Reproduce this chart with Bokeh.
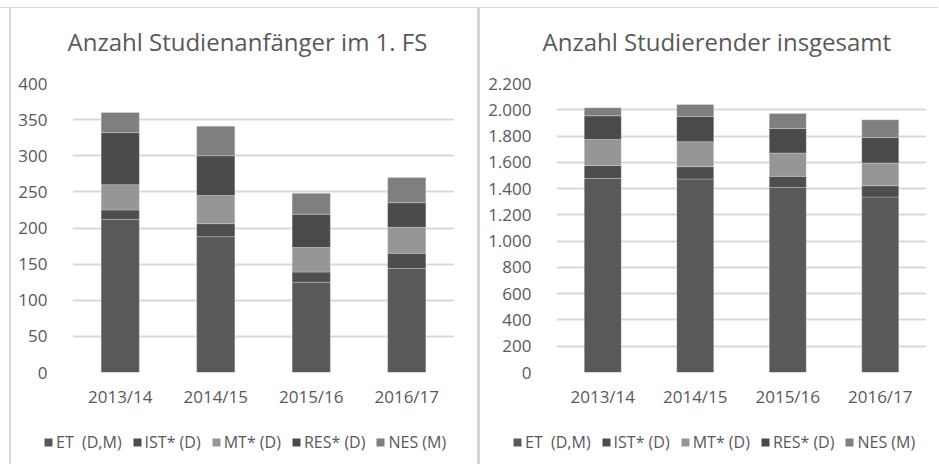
from bokeh.plotting import figure
from bokeh.models import (FactorRange, Range1d, FixedTicker, Legend, LegendItem, Div, Title)
from bokeh.layouts import row, column
from bokeh.embed import file_html
from bokeh.resources import INLINE

# ---------------- data ----------------
categories = ["2013/14", "2014/15", "2015/16", "2016/17"]
series_names = ["ET  (D,M)", "IST* (D)", "MT* (D)", "RES* (D)", "NES (M)"]
series_keys = ["et", "ist", "mt", "res", "nes"]
series_colors = ["#595959", "#4d4d4d", "#969696", "#4a4a4a", "#7f7f7f"]

# Anzahl Studienanfänger im 1. FS
anf_et = [212, 188, 125, 144]
anf_ist = [13, 18, 14, 21]
anf_mt = [35, 39, 34, 36]
anf_res = [72, 55, 46, 34]
anf_nes = [28, 41, 29, 35]
anf_ticks = [0, 50, 100, 150, 200, 250, 300, 350, 400]
anf_labels = ["0", "50", "100", "150", "200", "250", "300", "350", "400"]

# Anzahl Studierender insgesamt
ges_et = [1478, 1473, 1409, 1336]
ges_ist = [98, 94, 84, 86]
ges_mt = [198, 190, 178, 173]
ges_res = [180, 192, 187, 194]
ges_nes = [61, 91, 114, 135]
ges_ticks = [0, 200, 400, 600, 800, 1000, 1200, 1400, 1600, 1800, 2000, 2200]
ges_labels = ["0", "200", "400", "600", "800", "1.000", "1.200", "1.400",
              "1.600", "1.800", "2.000", "2.200"]

FONT = "Open Sans"
TXT = "#595959"
CHART_H = 417
LEG_H = 39


def make_chart(title, values, ticks, labels, width, mb_left, mb_right,
               title_offset, legend_x):
    data = {"cat": categories}
    for k, v in zip(series_keys, values):
        data[k] = v
    p = figure(x_range=FactorRange(*categories),
               y_range=Range1d(ticks[0], ticks[-1]),
               width=width, height=CHART_H,
               output_backend="svg", toolbar_location=None,
               min_border_left=mb_left, min_border_right=mb_right,
               min_border_top=75, min_border_bottom=53)
    p.frame_align = False
    # small empty spacer between the title and the plot frame
    p.add_layout(Title(text=" ", text_font_size="1px", standoff=5), "above")
    p.title.text = title
    p.title.align = "left"
    p.title.vertical_align = "top"
    p.title.offset = title_offset
    p.title.standoff = 32
    p.title.text_font = FONT
    p.title.text_font_size = "24px"
    p.title.text_font_style = "normal"
    p.title.text_color = TXT

    p.vbar_stack(series_keys, x="cat", width=0.4, source=data,
                 fill_color=series_colors, line_color="white",
                 line_alpha=0.25, line_width=1)

    p.outline_line_color = None
    p.xgrid.grid_line_color = None
    p.ygrid.grid_line_color = "#d9d9d9"
    p.ygrid.grid_line_width = 2
    p.yaxis.ticker = FixedTicker(ticks=ticks)
    p.yaxis.major_label_overrides = {t: l for t, l in zip(ticks, labels)}
    for ax in (p.xaxis[0], p.yaxis[0]):
        ax.axis_line_color = None
        ax.major_tick_line_color = None
        ax.minor_tick_line_color = None
        ax.major_label_text_font = FONT
        ax.major_label_text_font_size = "17px"
        ax.major_label_text_color = TXT
    p.yaxis.major_label_standoff = 19
    p.xaxis.major_label_standoff = 6

    # legend strip below the chart (its renderers sit outside the visible range)
    lg = figure(width=width, height=LEG_H, x_range=Range1d(0, 1),
                y_range=Range1d(0, 1), output_backend="svg",
                toolbar_location=None, x_axis_location=None,
                y_axis_location=None, min_border=0)
    lg.frame_align = False
    lg.outline_line_color = None
    lg.grid.grid_line_color = None
    items = []
    for name, col in zip(series_names, series_colors):
        r = lg.vbar(x=[5], top=[1], bottom=[0], width=0.1, fill_color=col,
                    line_color=None)
        items.append(LegendItem(label=name, renderers=[r]))
    legend = Legend(items=items, orientation="horizontal",
                    location=(legend_x, 11),
                    glyph_width=10, glyph_height=10, label_standoff=3,
                    spacing=10, padding=0, margin=0,
                    label_text_font=FONT, label_text_font_size="16px",
                    label_text_color=TXT, label_height=16,
                    border_line_color=None, background_fill_alpha=0)
    lg.add_layout(legend, "center")
    return column(p, lg, spacing=0)


c1 = make_chart("Anzahl Studienanfänger im 1. FS",
                [anf_et, anf_ist, anf_mt, anf_res, anf_nes],
                anf_ticks, anf_labels, 466, 61, 23, -5, 32)
c2 = make_chart("Anzahl Studierender insgesamt",
                [ges_et, ges_ist, ges_mt, ges_res, ges_nes],
                ges_ticks, ges_labels, 458, 76, 12, -14, 32)

FULL_H = CHART_H + LEG_H


def bar(w, h, color):
    return Div(text="", width=w, height=h, margin=0,
               styles={"background-color": color})


layout = column(
    bar(938, 7, "#ffffff"),
    bar(938, 1, "#d9d9d9"),
    row(bar(9, FULL_H, "#ffffff"), bar(2, FULL_H, "#d9d9d9"), c1,
        bar(3, FULL_H, "#d4d4d4"), c2, spacing=0),
    spacing=0,
)

open("out.html", "w").write(file_html(layout, INLINE))
